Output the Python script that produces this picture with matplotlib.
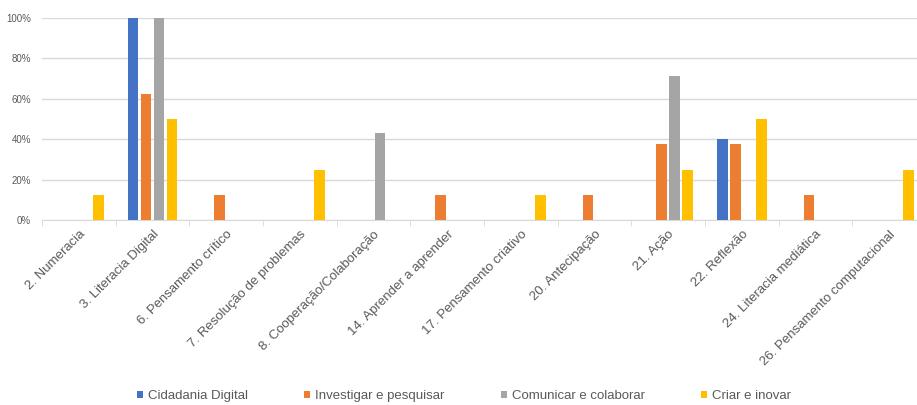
import numpy as np
import matplotlib.pyplot as plt

plt.rcParams['font.family'] = ['Liberation Sans', 'DejaVu Sans']

categorias = ["2. Numeracia", "3. Literacia Digital", "6. Pensamento crítico",
              "7. Resolução de problemas", "8. Cooperação/Colaboração",
              "14. Aprender a aprender", "17. Pensamento criativo",
              "20. Antecipação", "21. Ação", "22. Reflexão",
              "24. Literacia mediática", "26. Pensamento computacional"]

cidadania = [0, 100, 0, 0, 0, 0, 0, 0, 0, 40, 0, 0]
investigar = [0, 62.5, 12.5, 0, 0, 12.5, 0, 12.5, 37.5, 37.5, 12.5, 0]
comunicar = [0, 100, 0, 0, 42.9, 0, 0, 0, 71.4, 0, 0, 0]
criar = [12.5, 50, 0, 25, 0, 0, 12.5, 0, 25, 50, 0, 25]

series = ["Cidadania Digital", "Investigar e pesquisar", "Comunicar e colaborar", "Criar e inovar"]
cores = ['#4472C4', '#ED7D31', '#A5A5A5', '#FFC000']

fig = plt.figure(figsize=(9.17, 4.05), dpi=100)
ax = fig.add_axes([42/917, 185/405, 884/917, 202/405])

x = np.arange(len(categorias))
passo = 0.176
largura = 0.145
for i, vals in enumerate([cidadania, investigar, comunicar, criar]):
    ax.bar(x + (i - 1.5) * passo, np.array(vals) / 100, largura, color=cores[i],
           label=series[i], zorder=3)

ax.set_xlim(-0.5, len(categorias) - 0.5)
ax.set_ylim(0, 1.0)
ax.set_yticks(np.arange(0, 1.01, 0.2))
ax.set_yticklabels([f"{int(v*100)}%" for v in np.arange(0, 1.01, 0.2)],
                   fontsize=7, color='#595959')
ax.yaxis.grid(True, color='#d9d9d9', linewidth=1, zorder=0)
ax.tick_params(axis='y', length=0, pad=8)

# category boundaries as tick marks
ax.set_xticks(np.arange(-0.5, len(categorias), 1), minor=True)
ax.set_xticks(x)
ax.set_xticklabels(categorias, rotation=45, ha='right', rotation_mode='anchor',
                   fontsize=9.5, color='#595959')
ax.tick_params(axis='x', which='major', length=0, pad=6)
ax.tick_params(axis='x', which='minor', length=4, color='#d9d9d9', direction='out')

for s in ['top', 'right', 'left']:
    ax.spines[s].set_visible(False)
ax.spines['bottom'].set_color('#d9d9d9')

fig.legend(loc='center', bbox_to_anchor=(464/917, 1 - 396/405), ncol=4,
           frameon=False, fontsize=9.5, handlelength=0.45, handleheight=0.45,
           handletextpad=0.35, columnspacing=4.3, labelcolor='#595959')

fig.savefig("out.png", dpi=100)
